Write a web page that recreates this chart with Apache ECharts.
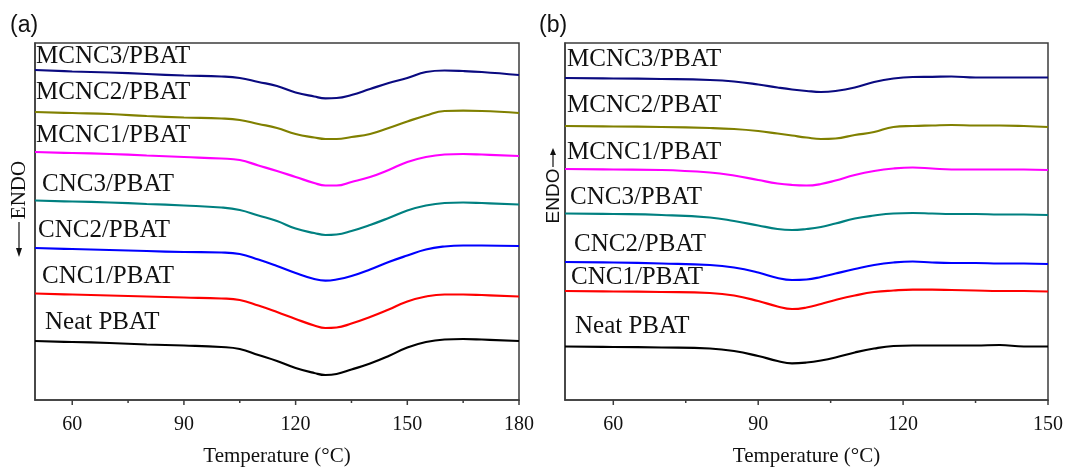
<!DOCTYPE html>
<html>
<head>
<meta charset="utf-8">
<script src="https://cdn.jsdelivr.net/npm/echarts@6/dist/echarts.min.js"></script>
<style>html,body{margin:0;padding:0;background:#fff}#c{width:1068px;height:467px}</style>
</head>
<body>
<div id="c"></div>
<script>
// ---------- data (heat flow, arbitrary units, curves offset vertically) ----------
const seriesNames = ['MCNC3/PBAT','MCNC2/PBAT','MCNC1/PBAT','CNC3/PBAT','CNC2/PBAT','CNC1/PBAT','Neat PBAT'];
const xTicksA = [60, 90, 120, 150, 180];
const xTicksB = [60, 90, 120, 150];

// Panel (a)
const tempA = [50,60,70,80,90,100,105,110,115,120,125,128,131,135,140,145,150,155,160,165,170,180];
const a_MCNC3 = [330,328.5,327.5,326,324.5,323.5,322,318,314,307.5,303.5,301.7,302,305,311,317,322,328,329.5,329,328,325];
const a_MCNC2 = [288,287,286,284,282.5,281.5,280,276,272,266,262.5,261,261,263,266,272,278.5,284.5,289,289.3,289,287];
const a_MCNC1 = [248,247,246,244.5,243,241.5,240,234.5,229,223,217,214.5,214.5,218,223,230,238,243,245.5,246,245.5,244];
const a_CNC3  = [199.5,198.5,197.5,196,194.5,192.5,190,184.5,179,171.5,167,165,165.5,169,175,182,189.5,194.5,197,197.5,197,195.5];
const a_CNC2  = [152,151,150,149,148,147.5,146,140.5,134,127,121,119.3,120.5,124,130.5,138,144.5,150.5,153.5,154.5,154.5,154];
const a_CNC1  = [106.5,105.5,104.5,103.5,102.5,101.5,100,94.5,88,81,74.5,72,72.5,76.5,83,90.5,98.5,103.5,105.5,105.5,105,103.5];
const a_Neat  = [59,58,57,55.5,54.5,53,51,45,39,32,27,25,26,30.5,36.5,44,52.5,58,60.5,61,60.5,59];

// Panel (b)
const tempB = [50,60,70,80,85,90,94,97,100,103,106,110,114,118,122,126,130,135,140,145,150];
const b_MCNC3 = [322,321.5,321,320,318.5,315.5,312.5,310.5,309,308,309,312.5,318,321.5,323,323.2,323.5,322.5,322.5,322.5,322.5];
const b_MCNC2 = [274,273.5,273,272,271,269,266.5,264.5,262.5,261,261.5,265,268,273,274,274.5,275,274.5,274.5,274,273];
const b_MCNC1 = [231,230.5,230,227.5,224.5,220,216.5,215,214.5,216,219.5,225,229,231.5,232.5,231.5,230.5,230.5,230.5,230.5,230];
const b_CNC3  = [186.5,186,185,182.5,179,174.5,171,170,171,173,176.5,181.5,184.5,186.5,187,186.5,186,186,185.5,185.5,185];
const b_CNC2  = [138,137.5,136.5,135,132.5,127.5,122,120,120.5,123,126.5,131,135,137.5,138.5,137.5,137,137,136.5,136.5,136];
const b_CNC1  = [109,108.5,108,107,104.5,99,93.5,91,92.5,96,100,104.5,108,109.5,110.3,110.3,110,109.5,109,109,108.5];
const b_Neat  = [53.5,53,52.5,51.5,49,44,39,36.7,37.5,39.5,42.5,47.5,51.5,54,54.5,54.5,54.5,54.5,55,53.5,53.5];

// ---------- styling / layout ----------
const colors = ['#0a0a80','#808000','#ff00ff','#008080','#0000ff','#ff0000','#000000'];
const seriesA = [a_MCNC3,a_MCNC2,a_MCNC1,a_CNC3,a_CNC2,a_CNC1,a_Neat];
const seriesB = [b_MCNC3,b_MCNC2,b_MCNC1,b_CNC3,b_CNC2,b_CNC1,b_Neat];
const labelPosA = [[36,56],[36,92],[36,135],[42,184.5],[38,230],[42,276],[45,322]];
const labelPosB = [[567,59],[567,105],[567,152.5],[570,197.5],[574,244],[571,277],[575,326]];

const SERIF = '"Liberation Serif","Times New Roman",serif';
const SANS = '"Liberation Sans",Arial,sans-serif';
const frameColor = '#3c3c3c';

function pairs(xs, ys){ return xs.map((x,i)=>[x, ys[i]]); }

function xAxisCfg(gridIndex, max, ticks){
  return {
    type:'value', gridIndex, min:50, max, interval:10,
    axisLine:{show:true, lineStyle:{color:frameColor, width:1.5}},
    axisTick:{show:false},
    splitLine:{show:false},
    axisLabel:{show:true, margin:15, color:'#111', fontFamily:SERIF, fontSize:20,
      showMinLabel:true, showMaxLabel:true,
      formatter: v => ticks.indexOf(v) >= 0 ? String(v) : ''},
    name:'Temperature (°C)', nameLocation:'middle', nameGap:46,
    nameTextStyle:{fontFamily:SERIF, fontSize:21, color:'#111'}
  };
}
function yAxisCfg(gridIndex){
  return {type:'value', gridIndex, min:0, max:357, show:true,
    axisLine:{show:true,lineStyle:{color:frameColor,width:1.5}}, axisTick:{show:false},
    axisLabel:{show:false}, splitLine:{show:false}};
}

const option = {
  animation:false,
  backgroundColor:'#fff',
  grid:[
    {left:35, width:484, top:43, height:357, outerBoundsMode:'none', containLabel:false, show:true, borderColor:frameColor, borderWidth:1.5, backgroundColor:'transparent'},
    {left:565, width:483, top:43, height:357, outerBoundsMode:'none', containLabel:false, show:true, borderColor:frameColor, borderWidth:1.5, backgroundColor:'transparent'}
  ],
  xAxis:[xAxisCfg(0, 180, xTicksA), xAxisCfg(1, 150, xTicksB)],
  yAxis:[yAxisCfg(0), yAxisCfg(1)],
  series:[],
  graphic:[]
};

seriesNames.forEach((n,i)=>{
  option.series.push({type:'line', name:n, xAxisIndex:0, yAxisIndex:0, data:pairs(tempA, seriesA[i]),
    smooth:0.45, showSymbol:false, lineStyle:{color:colors[i], width:2.2}, itemStyle:{color:colors[i]}});
  option.series.push({type:'line', name:n, xAxisIndex:1, yAxisIndex:1, data:pairs(tempB, seriesB[i]),
    smooth:0.45, showSymbol:false, lineStyle:{color:colors[i], width:2.2}, itemStyle:{color:colors[i]}});
  option.graphic.push({type:'text', x:labelPosA[i][0], y:labelPosA[i][1], silent:true,
    style:{text:n, font:'25px '+SERIF, fill:'#111', align:'left', verticalAlign:'middle'}});
  option.graphic.push({type:'text', x:labelPosB[i][0], y:labelPosB[i][1], silent:true,
    style:{text:n, font:'25px '+SERIF, fill:'#111', align:'left', verticalAlign:'middle'}});
});

// panel letters
option.graphic.push({type:'text', x:10, y:26, style:{text:'(a)', font:'23px '+SANS, fill:'#111', align:'left', verticalAlign:'middle'}});
option.graphic.push({type:'text', x:539, y:26, style:{text:'(b)', font:'23px '+SANS, fill:'#111', align:'left', verticalAlign:'middle'}});

// ENDO indicators
option.graphic.push({type:'text', x:19, y:190, rotation:Math.PI/2, style:{text:'ENDO', font:'21px '+SERIF, fill:'#111', align:'center', verticalAlign:'middle'}});
option.graphic.push({type:'line', shape:{x1:19,y1:222,x2:19,y2:250}, style:{stroke:'#111', lineWidth:1.2}});
option.graphic.push({type:'polygon', shape:{points:[[16,248],[22,248],[19,257]]}, style:{fill:'#111'}});
option.graphic.push({type:'text', x:554, y:196, rotation:Math.PI/2, style:{text:'ENDO', font:'19px '+SANS, fill:'#111', align:'center', verticalAlign:'middle'}});
option.graphic.push({type:'line', shape:{x1:553,y1:167,x2:553,y2:154}, style:{stroke:'#111', lineWidth:1.2}});
option.graphic.push({type:'polygon', shape:{points:[[550,155],[556,155],[553,148]]}, style:{fill:'#111'}});

const chart = echarts.init(document.getElementById('c'), null, {renderer:'canvas'});
chart.setOption(option);

// tick marks (major at labeled values, minor at midpoints), outward, placed through the axis scale
const extra = [];
[[0, xTicksA], [1, xTicksB]].forEach(([gi, ticks])=>{
  ticks.forEach((v, k)=>{
    const p = chart.convertToPixel({xAxisIndex:gi, yAxisIndex:gi}, [v, 0]);
    extra.push({type:'line', shape:{x1:p[0], y1:p[1], x2:p[0], y2:p[1]+5}, style:{stroke:frameColor, lineWidth:1.5}});
    if (k > 0) {
      const m = chart.convertToPixel({xAxisIndex:gi, yAxisIndex:gi}, [(ticks[k-1]+v)/2, 0]);
      extra.push({type:'line', shape:{x1:m[0], y1:m[1], x2:m[0], y2:m[1]+3}, style:{stroke:frameColor, lineWidth:1.5}});
    }
  });
});
chart.setOption({graphic: option.graphic.concat(extra)});
</script>
</body>
</html>
